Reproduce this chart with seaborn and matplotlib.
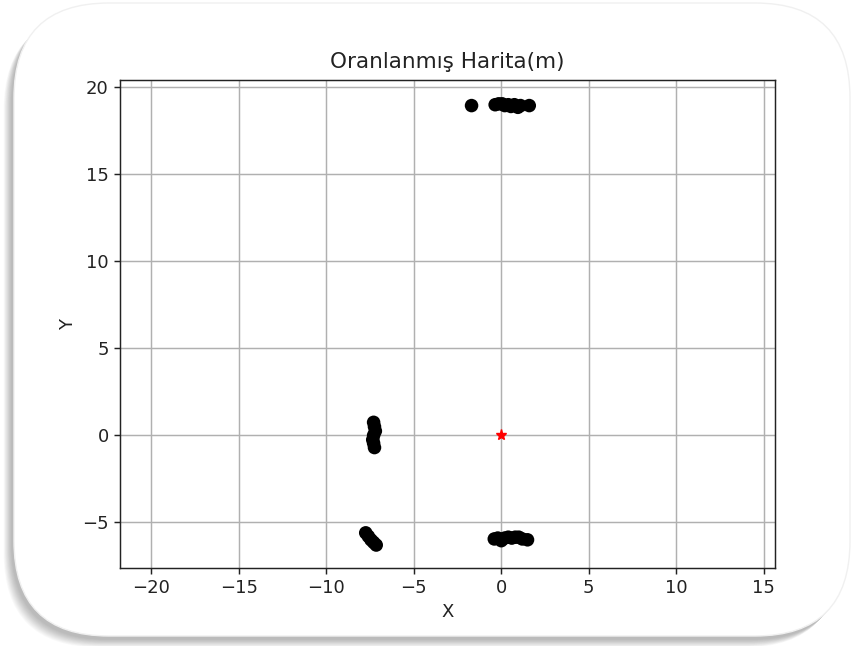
import matplotlib
matplotlib.use("Agg")
import matplotlib.pyplot as plt
import pandas as pd
import seaborn as sns
from matplotlib.patches import FancyBboxPatch

# map points (metres)
x_pts = [-1.7, -0.35, -0.15, 0.05, 0.2, 0.4, 0.55, 0.75, 0.95, 1.1, 1.6,
         -7.3, -7.25, -7.2, -7.3, -7.35, -7.3, -7.25,
         -7.75, -7.6, -7.45, -7.3, -7.15,
         -0.4, -0.2, 0.0, 0.2, 0.4, 0.6, 0.8, 1.0, 1.2, 1.5]
y_pts = [18.95, 19.0, 19.05, 19.05, 18.95, 19.0, 18.9, 19.0, 18.85, 18.95, 18.95,
         0.75, 0.5, 0.25, 0.0, -0.25, -0.45, -0.7,
         -5.6, -5.8, -6.0, -6.15, -6.3,
         -5.95, -5.9, -6.05, -5.9, -5.85, -5.9, -5.85, -5.85, -5.95, -6.0]
origin_x = [0.0]
origin_y = [0.0]

df = pd.DataFrame({"x": x_pts, "y": y_pts})

sns.set_style("white")
plt.rcParams['font.family'] = ['DejaVu Sans']

fig = plt.figure(figsize=(8.54, 6.46), dpi=100)
W, H = 854, 646

# rounded frame with soft shadow (offset to the lower left)
for i in range(12, 0, -1):
    sh = FancyBboxPatch((14 - 0.7 * i - 2, 10 - 0.7 * i - 3), 836, 632,
                        boxstyle="round,pad=0,rounding_size=95",
                        transform=None, facecolor="black", edgecolor="none",
                        alpha=0.022, zorder=0)
    fig.patches.append(sh)
frame = FancyBboxPatch((14, 10), 836, 633,
                       boxstyle="round,pad=0,rounding_size=95",
                       transform=None, facecolor="white", edgecolor="#f0f0f0",
                       linewidth=1, zorder=1)
fig.patches.append(frame)

ax = fig.add_axes([120 / W, (646 - 568) / H, 655 / W, 488 / H])
ax.set_zorder(2)

sns.scatterplot(data=df, x="x", y="y", color="black", s=95, edgecolor="none", ax=ax, zorder=3)
ax.plot(origin_x, origin_y, "r*", markersize=8, zorder=4)

ax.set_xlim(-21.8, 15.65)
ax.set_ylim(-7.62, 20.42)
ax.set_xticks([-20, -15, -10, -5, 0, 5, 10, 15])
ax.set_yticks([-5, 0, 5, 10, 15, 20])
ax.grid(True, color="#b0b0b0", linewidth=1.05)
ax.set_axisbelow(True)
for s in ax.spines.values():
    s.set_color("#222222")
    s.set_linewidth(1.05)
ax.tick_params(direction="out", length=4.6, width=1.05, labelsize=13, colors="#222222",
               bottom=True, left=True)
ax.set_title("Oranlanmış Harita(m)", fontsize=15.5, pad=9, color="#222222")
ax.set_xlabel("X", fontsize=13, color="#222222")
ax.set_ylabel("Y", fontsize=13, color="#222222")

fig.savefig("out.png", dpi=100)
